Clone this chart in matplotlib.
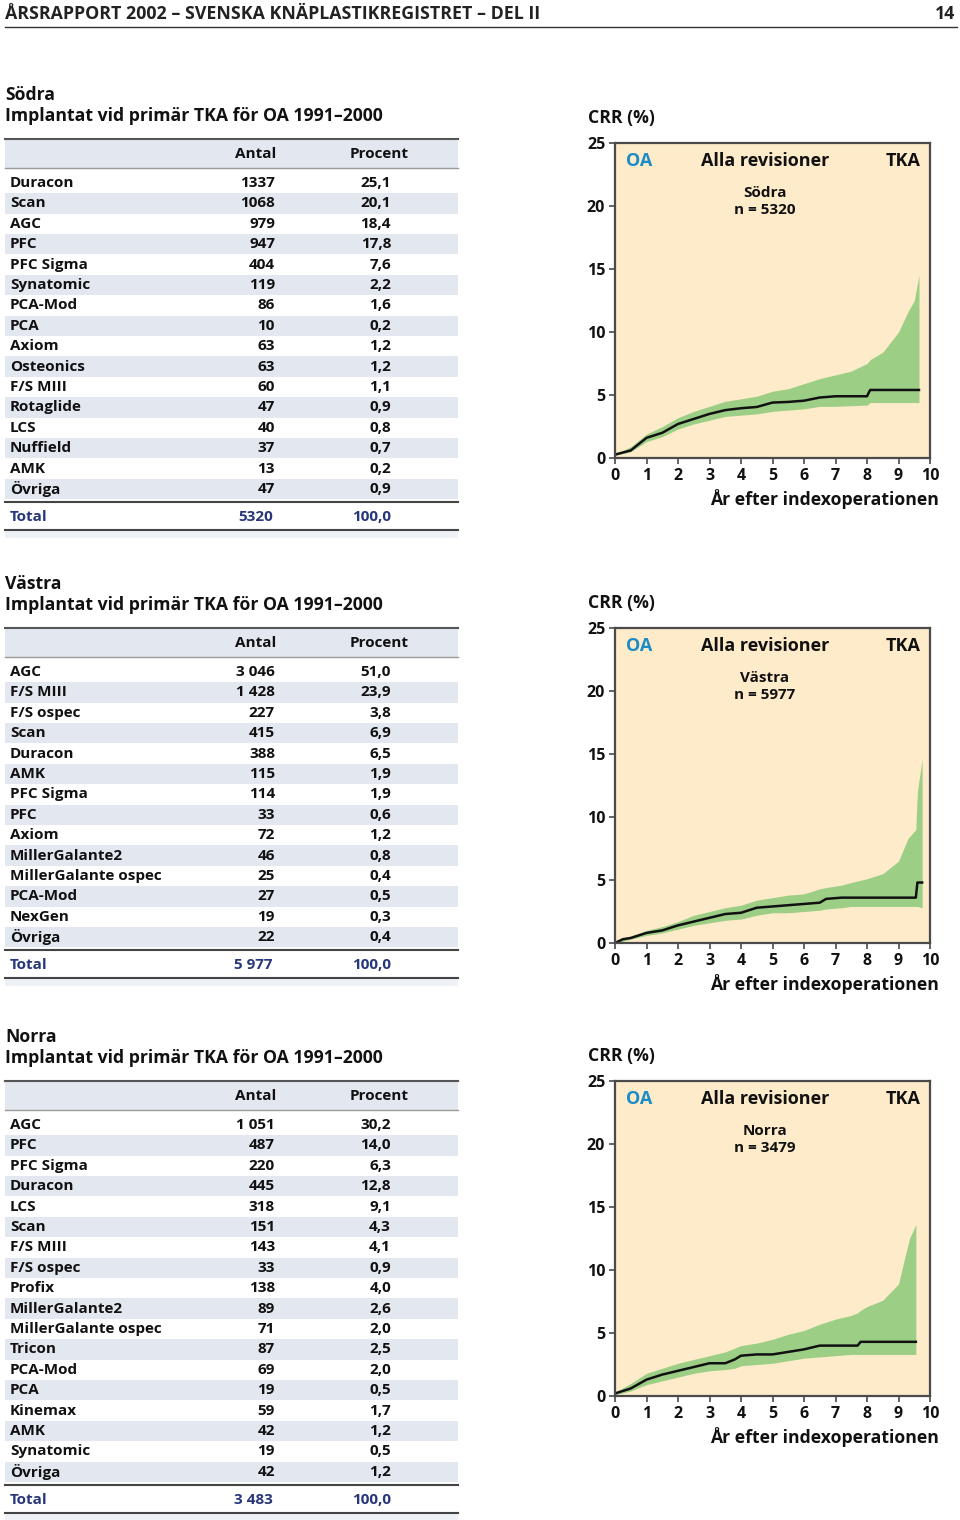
import matplotlib
matplotlib.use("Agg")
import matplotlib.pyplot as plt
from matplotlib import font_manager

names = {f.name for f in font_manager.fontManager.ttflist}
FONT = "Open Sans" if "Open Sans" in names else "DejaVu Sans"
plt.rcParams["font.family"] = [FONT, "DejaVu Sans"]
plt.rcParams["font.weight"] = "bold"

# ---- tabelldata ----
sodra_namn = ["Duracon", "Scan", "AGC", "PFC", "PFC Sigma", "Synatomic", "PCA-Mod", "PCA",
              "Axiom", "Osteonics", "F/S MIII", "Rotaglide", "LCS", "Nuffield", "AMK", "Övriga"]
sodra_antal = ["1337", "1068", "979", "947", "404", "119", "86", "10",
               "63", "63", "60", "47", "40", "37", "13", "47"]
sodra_proc = ["25,1", "20,1", "18,4", "17,8", "7,6", "2,2", "1,6", "0,2",
              "1,2", "1,2", "1,1", "0,9", "0,8", "0,7", "0,2", "0,9"]
sodra_total = ["5320", "100,0"]

vastra_namn = ["AGC", "F/S MIII", "F/S ospec", "Scan", "Duracon", "AMK", "PFC Sigma", "PFC",
               "Axiom", "MillerGalante2", "MillerGalante ospec", "PCA-Mod", "NexGen", "Övriga"]
vastra_antal = ["3 046", "1 428", "227", "415", "388", "115", "114", "33",
                "72", "46", "25", "27", "19", "22"]
vastra_proc = ["51,0", "23,9", "3,8", "6,9", "6,5", "1,9", "1,9", "0,6",
               "1,2", "0,8", "0,4", "0,5", "0,3", "0,4"]
vastra_total = ["5 977", "100,0"]

norra_namn = ["AGC", "PFC", "PFC Sigma", "Duracon", "LCS", "Scan", "F/S MIII", "F/S ospec",
              "Profix", "MillerGalante2", "MillerGalante ospec", "Tricon", "PCA-Mod", "PCA",
              "Kinemax", "AMK", "Synatomic", "Övriga"]
norra_antal = ["1 051", "487", "220", "445", "318", "151", "143", "33",
               "138", "89", "71", "87", "69", "19", "59", "42", "19", "42"]
norra_proc = ["30,2", "14,0", "6,3", "12,8", "9,1", "4,3", "4,1", "0,9",
              "4,0", "2,6", "2,0", "2,5", "2,0", "0,5", "1,7", "1,2", "0,5", "1,2"]
norra_total = ["3 483", "100,0"]

# ---- CRR-kurvor (år, CRR %, nedre, övre) ----
sodra_ar = [0, 0.5, 1, 1.5, 2, 2.5, 3, 3.5, 4, 4.5, 5, 5.5, 6, 6.5, 7, 7.5, 8, 8.1, 8.5, 9, 9.3, 9.5, 9.65]
sodra_crr = [0.27, 0.6, 1.6, 2.0, 2.7, 3.1, 3.5, 3.8, 3.95, 4.05, 4.4, 4.45, 4.55, 4.8, 4.9, 4.9, 4.9, 5.4, 5.4, 5.4, 5.4, 5.4, 5.4]
sodra_lo = [0.2, 0.5, 1.3, 1.7, 2.3, 2.7, 3.0, 3.3, 3.4, 3.5, 3.7, 3.8, 3.9, 4.1, 4.1, 4.15, 4.2, 4.4, 4.4, 4.4, 4.4, 4.4, 4.4]
sodra_hi = [0.3, 0.9, 1.9, 2.5, 3.2, 3.7, 4.1, 4.5, 4.7, 4.9, 5.3, 5.5, 5.9, 6.3, 6.6, 6.9, 7.5, 7.8, 8.4, 10.0, 11.6, 12.5, 14.5]

vastra_ar = [0, 0.25, 0.5, 1, 1.5, 2, 2.5, 3, 3.5, 4, 4.5, 5, 5.5, 6, 6.5, 6.7, 7.2, 7.5, 8, 8.5, 9, 9.3, 9.55, 9.6, 9.75]
vastra_crr = [0.0, 0.3, 0.4, 0.8, 1.0, 1.4, 1.7, 2.0, 2.3, 2.4, 2.8, 2.9, 3.0, 3.1, 3.2, 3.5, 3.6, 3.6, 3.6, 3.6, 3.6, 3.6, 3.6, 4.8, 4.8]
vastra_lo = [0.0, 0.15, 0.3, 0.6, 0.8, 1.1, 1.4, 1.6, 1.8, 1.9, 2.2, 2.4, 2.4, 2.5, 2.6, 2.7, 2.8, 2.9, 2.9, 2.9, 2.9, 2.9, 2.9, 2.9, 2.8]
vastra_hi = [0.05, 0.35, 0.55, 1.0, 1.3, 1.7, 2.2, 2.5, 2.8, 3.0, 3.4, 3.6, 3.8, 3.9, 4.3, 4.4, 4.6, 4.8, 5.1, 5.5, 6.5, 8.3, 9.0, 12.0, 14.6]

norra_ar = [0, 0.5, 1, 1.5, 2, 2.5, 3, 3.5, 3.8, 4, 4.5, 5, 5.5, 6, 6.5, 7, 7.5, 7.7, 7.8, 8, 8.5, 9, 9.2, 9.35, 9.55]
norra_crr = [0.2, 0.6, 1.3, 1.7, 2.0, 2.3, 2.6, 2.6, 2.9, 3.2, 3.3, 3.3, 3.5, 3.7, 4.0, 4.0, 4.0, 4.0, 4.3, 4.3, 4.3, 4.3, 4.3, 4.3, 4.3]
norra_lo = [0.1, 0.4, 0.9, 1.2, 1.5, 1.8, 2.0, 2.1, 2.2, 2.4, 2.5, 2.6, 2.8, 3.0, 3.1, 3.2, 3.3, 3.3, 3.3, 3.3, 3.3, 3.3, 3.3, 3.3, 3.3]
norra_hi = [0.3, 1.0, 1.8, 2.2, 2.6, 2.9, 3.2, 3.5, 3.8, 4.0, 4.2, 4.5, 4.9, 5.2, 5.7, 6.1, 6.4, 6.6, 6.8, 7.1, 7.6, 8.9, 11.0, 12.5, 13.6]

SHADE = "#e3e7f0"
NAVY = "#27377a"
BG = "#fdebc9"
GREEN = "#9ccf85"
BLUE = "#1b8cc6"
GRID = "#4a4a4a"
FS = 11

fig = plt.figure(figsize=(9.6, 15.2), dpi=100)
ov = fig.add_axes([0, 0, 1, 1])
ov.set_xlim(0, 960)
ov.set_ylim(1520, 0)
ov.axis("off")

# sidhuvud
ov.text(5, 14, "ÅRSRAPPORT 2002 – SVENSKA KNÄPLASTIKREGISTRET – DEL II", fontsize=12.8,
        va="center", ha="left", color="#222")
ov.text(955, 14, "14", fontsize=12.8, va="center", ha="right", color="#222")
ov.plot([5, 957], [27, 27], color="#333", lw=1)


def tabell(y_top, region, namn, antal, proc, total):
    ov.text(5, y_top - 44, region, fontsize=12.7, va="center", ha="left", color="#111")
    ov.text(5, y_top - 23, "Implantat vid primär TKA för OA 1991–2000", fontsize=12.7,
            va="center", ha="left", color="#111")
    ov.fill_between([5, 458], y_top, y_top + 29, color=SHADE, lw=0)
    ov.plot([5, 458], [y_top, y_top], color="#555", lw=1.5)
    ov.plot([5, 458], [y_top + 29, y_top + 29], color="#999", lw=1)
    ov.text(256, y_top + 15, "Antal", fontsize=FS, ha="center", va="center", color="#111")
    ov.text(379, y_top + 15, "Procent", fontsize=FS, ha="center", va="center", color="#111")
    step = 20.4
    y0 = y_top + 44
    for i, (n, a, p) in enumerate(zip(namn, antal, proc)):
        yc = y0 + i * step
        if i % 2 == 1:
            ov.fill_between([5, 458], yc - step / 2, yc + step / 2, color=SHADE, lw=0)
        ov.text(10, yc, n, fontsize=FS, ha="left", va="center", color="#111")
        ov.text(275, yc, a, fontsize=FS, ha="right", va="center", color="#111")
        ov.text(391, yc, p, fontsize=FS, ha="right", va="center", color="#111")
    y_last = y0 + (len(namn) - 1) * step
    ov.plot([5, 458], [y_last + 13, y_last + 13], color="#444", lw=1.5)
    yt = y_last + 28
    ov.text(10, yt, "Total", fontsize=FS, ha="left", va="center", color=NAVY)
    ov.text(273, yt, total[0], fontsize=FS, ha="right", va="center", color=NAVY)
    ov.text(391, yt, total[1], fontsize=FS, ha="right", va="center", color=NAVY)
    ov.plot([5, 458], [yt + 13, yt + 13], color="#444", lw=1.5)
    ov.fill_between([5, 458], yt + 14, yt + 21, color="#eef1f6", lw=0)


def diagram(y0px, region, n, ar, crr, lo, hi):
    h = 315
    ax = fig.add_axes([615 / 960, 1 - y0px / 1520, 315 / 960, h / 1520])
    ax.set_facecolor(BG)
    ax.fill_between(ar, lo, hi, color=GREEN, lw=0)
    ax.plot(ar, crr, color="#111", lw=1.8)
    ax.set_xlim(0, 10)
    ax.set_ylim(0, 25)
    ax.set_xticks(range(0, 11))
    ax.set_yticks([0, 5, 10, 15, 20, 25])
    for s in ax.spines.values():
        s.set_color(GRID)
        s.set_linewidth(1.6)
    ax.tick_params(colors=GRID, labelcolor="#111", labelsize=11.5, length=4, width=1.2, pad=3)
    ax.text(0.665, -0.13, "År efter indexoperationen", transform=ax.transAxes, fontsize=12.7,
            ha="center", va="center", color="#111")
    ax.text(-0.085, 1.08, "CRR (%)", transform=ax.transAxes, fontsize=12.7,
            ha="left", va="center", color="#111")
    ax.text(0.035, 0.943, "OA", transform=ax.transAxes, fontsize=13, color=BLUE,
            ha="left", va="center")
    ax.text(0.476, 0.943, "Alla revisioner", transform=ax.transAxes, fontsize=13,
            ha="center", va="center", color="#111")
    ax.text(0.97, 0.943, "TKA", transform=ax.transAxes, fontsize=13,
            ha="right", va="center", color="#111")
    ax.text(0.476, 0.841, region, transform=ax.transAxes, fontsize=FS,
            ha="center", va="center", color="#111")
    ax.text(0.476, 0.787, "n = " + n, transform=ax.transAxes, fontsize=FS,
            ha="center", va="center", color="#111")


tabell(139, "Södra", sodra_namn, sodra_antal, sodra_proc, sodra_total)
tabell(628, "Västra", vastra_namn, vastra_antal, vastra_proc, vastra_total)
tabell(1081, "Norra", norra_namn, norra_antal, norra_proc, norra_total)

diagram(458, "Södra", "5320", sodra_ar, sodra_crr, sodra_lo, sodra_hi)
diagram(943, "Västra", "5977", vastra_ar, vastra_crr, vastra_lo, vastra_hi)
diagram(1396, "Norra", "3479", norra_ar, norra_crr, norra_lo, norra_hi)

fig.savefig("out.png", dpi=100)
